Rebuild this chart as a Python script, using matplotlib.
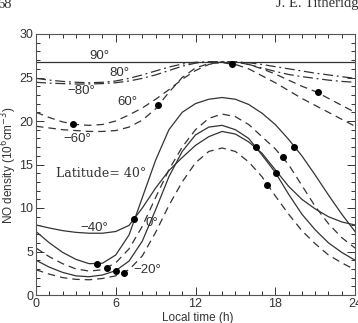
import numpy as np
import matplotlib
matplotlib.use("Agg")
import matplotlib.pyplot as plt
from matplotlib.ticker import MultipleLocator

# ---- data ----
hours = list(range(25))

lat_90 = [26.8] * 25
lat_80 = [24.9, 24.7, 24.55, 24.45, 24.4, 24.45, 24.6, 24.9, 25.3, 25.75, 26.2, 26.55, 26.75,
          26.8, 26.8, 26.8, 26.7, 26.5, 26.25, 26.0, 25.75, 25.5, 25.3, 25.1, 24.9]
lat_m80 = [24.45, 24.35, 24.3, 24.25, 24.25, 24.3, 24.4, 24.6, 24.9, 25.3, 25.8, 26.3, 26.65,
           26.8, 26.8, 26.75, 26.5, 26.1, 25.7, 25.35, 25.1, 24.9, 24.7, 24.55, 24.45]
lat_60 = [21.0, 20.4, 19.9, 19.6, 19.5, 19.6, 20.0, 20.7, 21.5, 22.5, 23.6, 24.8, 25.8,
          26.5, 26.8, 26.8, 26.5, 26.0, 25.4, 24.7, 24.0, 23.4, 22.6, 21.8, 21.0]
lat_m60 = [19.4, 19.2, 19.0, 18.9, 18.8, 18.8, 18.9, 19.3, 20.1, 21.4, 23.3, 25.0, 26.1,
           26.6, 26.7, 26.5, 26.0, 25.2, 24.4, 23.5, 22.6, 21.8, 21.0, 20.2, 19.4]
lat_40 = [7.3, 6.0, 4.9, 4.1, 3.6, 3.65, 4.6, 6.9, 11.2, 15.5, 19.0, 21.0, 22.0,
          22.5, 22.7, 22.5, 21.9, 20.9, 19.6, 17.9, 16.0, 13.8, 11.5, 9.3, 7.3]
lat_20 = [5.4, 4.4, 3.6, 3.0, 2.75, 2.9, 3.7, 5.3, 7.9, 11.2, 14.4, 17.0, 19.0,
          20.3, 20.8, 20.5, 19.6, 18.2, 16.8, 15.0, 12.6, 10.2, 8.2, 6.6, 5.4]
lat_0 = [4.0, 3.2, 2.6, 2.2, 2.1, 2.3, 2.8, 3.9, 6.2, 9.8, 13.6, 16.5, 18.4,
         19.3, 19.5, 19.0, 18.0, 16.1, 14.1, 11.6, 9.3, 7.5, 6.0, 4.9, 4.0]
lat_m20 = [2.9, 2.4, 2.0, 1.8, 1.75, 1.9, 2.2, 2.9, 4.5, 7.2, 10.3, 13.0, 15.2,
           16.5, 16.9, 16.5, 15.3, 13.6, 11.4, 9.3, 7.4, 5.9, 4.6, 3.7, 2.9]
lat_m40 = [8.05, 7.7, 7.4, 7.2, 7.1, 7.1, 7.3, 8.0, 10.0, 12.3, 14.3, 15.8, 17.2,
           18.2, 18.8, 18.5, 17.6, 16.3, 14.4, 12.5, 11.0, 9.9, 9.0, 8.4, 8.05]

dot_times = [2.76, 9.2, 14.77, 21.2, 4.56, 5.37, 6.0, 6.62, 7.4,
             19.44, 18.58, 18.03, 17.4, 16.55]
dot_values = [19.7, 21.8, 26.6, 23.3, 3.56, 3.15, 2.8, 2.55, 8.7,
              17.05, 15.86, 14.06, 12.6, 17.05]

x_ticks = [0, 6, 12, 18, 24]
y_ticks = [0, 5, 10, 15, 20, 25, 30]

ink = "#333333"
sans = "Liberation Sans"
W, H = 358, 323
fig = plt.figure(figsize=(W / 100, H / 100), dpi=100)
ax = fig.add_axes([36 / W, 1 - 295 / H, 319 / W, 261 / H])

lw = 0.9
dash = (0, (6, 4))
dashdot = (0, (8, 3, 1.5, 3))
series = [
    (lat_90, "-"), (lat_80, dashdot), (lat_m80, dashdot),
    (lat_60, dash), (lat_m60, dash),
    (lat_40, "-"), (lat_20, dash), (lat_0, "-"), (lat_m20, dash), (lat_m40, "-"),
]
for vals, ls in series:
    ax.plot(hours, vals, color=ink, lw=lw, linestyle=ls)

ax.plot(dot_times, dot_values, "o", color="black", ms=4, zorder=5)

ax.set_xlim(0, 24)
ax.set_ylim(0, 30)
ax.set_xticks(x_ticks)
ax.set_yticks(y_ticks)
ax.xaxis.set_minor_locator(MultipleLocator(1))
ax.yaxis.set_minor_locator(MultipleLocator(1))
ax.tick_params(which="both", direction="in", top=True, right=True, colors=ink,
               labelsize=9, width=0.7)
ax.tick_params(axis="x", pad=2)
ax.tick_params(axis="y", pad=2)
ax.tick_params(which="major", length=6)
ax.tick_params(which="minor", length=3)
for lbl in ax.get_xticklabels() + ax.get_yticklabels():
    lbl.set_family(sans)
for s in ax.spines.values():
    s.set_color("#555555")
    s.set_linewidth(0.8)

ax.set_xlabel("Local time (h)", fontsize=8.5, color=ink, family=sans)
ax.xaxis.set_label_coords(162 / 319, -17 / 261)
ax.set_ylabel("NO density (10$^6$cm$^{-3}$)", fontsize=8.5, color=ink, family=sans,
              va="center")
ax.yaxis.set_label_coords(-27 / 319, 130 / 261)

lab = dict(fontsize=9.5, color=ink, ha="center", va="center", family=sans)
ax.text(4.8, 27.5, "90°", **lab)
ax.text(6.3, 25.5, "80°", **lab)
ax.text(3.4, 23.4, "\u221280°", **lab)
ax.text(6.9, 22.2, "60°", **lab)
ax.text(3.1, 17.9, "\u221260°", **lab)
ax.text(1.5, 14.0, "Latitude= 40°", fontsize=9, color=ink, ha="left", va="center",
        family="DejaVu Serif")
ax.text(4.4, 7.7, "\u221240°", **lab)
ax.text(8.7, 8.3, "0°", **lab)
ax.text(8.4, 2.9, "\u221220°", **lab)

fig.text(-3 / W, 1 - 4 / H, "68", fontsize=10.5, family="Liberation Serif", color=ink,
         ha="left", va="center")
fig.text(276 / W, 1 - 4 / H, "J. E. Titheridge", fontsize=10.5, family="Liberation Serif",
         color=ink, ha="left", va="center")

fig.savefig("out.png", dpi=100)
